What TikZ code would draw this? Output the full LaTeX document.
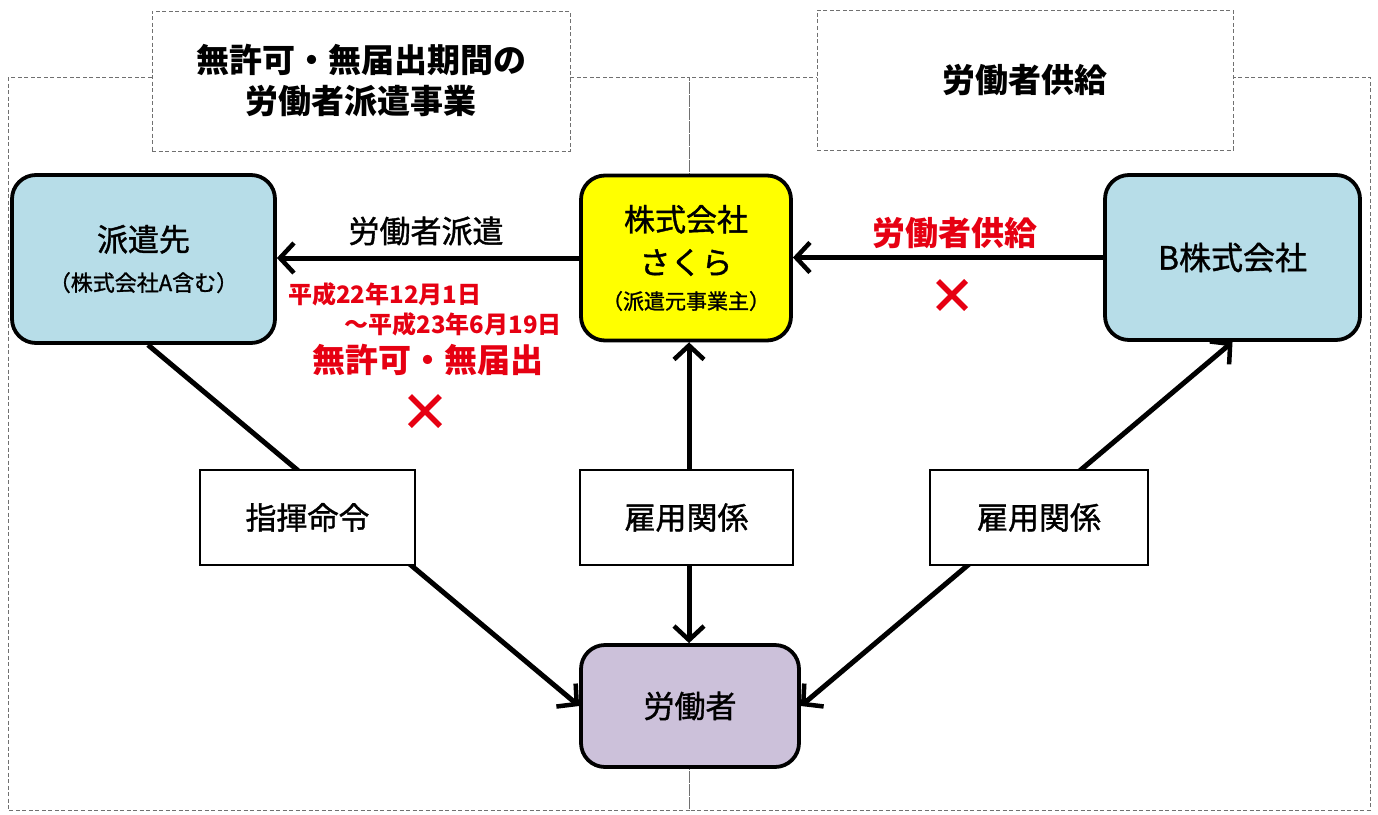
\documentclass[tikz,border=0pt]{standalone}
\usepackage{fontspec}
\setmainfont{Noto Sans CJK JP}
\newfontfamily\medfont{Noto Sans CJK JP}[FakeBold=1.2]
\usetikzlibrary{arrows.meta,calc}
\definecolor{hakenblue}{HTML}{B7DDE8}
\definecolor{sakurayellow}{HTML}{FFFF00}
\definecolor{workerlav}{HTML}{CCC1DA}
\definecolor{alertred}{HTML}{E60012}
\definecolor{dashgray}{HTML}{707070}
\tikzset{
  bigbox/.style={draw=black, line width=3.8pt, rounded corners=24pt, align=center, inner sep=0pt},
  labelbox/.style={draw=black, line width=1.2pt, fill=white, inner sep=0pt, font=\medfont\fontsize{31}{36}\selectfont},
  region/.style={draw=dashgray, line width=0.9pt, dash pattern=on 4pt off 2.5pt},
  titlebox/.style={region, fill=white, align=center, font=\fontsize{33}{41}\selectfont\bfseries},
  conn/.style={line width=5pt},
  tip/.style={-{Straight Barb[length=14pt,width=30pt,line width=4.5pt]}},
  bothtip/.style={{Straight Barb[length=14pt,width=30pt,line width=4.5pt]}-{Straight Barb[length=14pt,width=30pt,line width=4.5pt]}},
  redtext/.style={text=alertred, font=\bfseries},
  cross/.style={draw=alertred, line width=5.5pt}
}
\begin{document}
\begin{tikzpicture}[x=1pt,y=-1pt]
\useasboundingbox (0,0) rectangle (1378,814);
% regions
\draw[region] (8,77) rectangle (689,810);
\draw[region] (689,77) rectangle (1370,810);
\node[titlebox, minimum width=418pt, minimum height=140pt] (t1) at (361,81) {無許可・無届出期間の\\労働者派遣事業};
\node[titlebox, minimum width=416pt, minimum height=140pt] (t2) at (1025,80) {労働者供給};
% main boxes
\node[bigbox, fill=hakenblue, minimum width=263pt, minimum height=168pt,
      font=\medfont\fontsize{31}{38}\selectfont] (haken) at (143.5,259)
  {派遣先\\[2pt]{\fontsize{22}{26}\selectfont （株式会社A含む）}};
\node[bigbox, fill=sakurayellow, minimum width=210pt, minimum height=165pt,
      font=\medfont\fontsize{31}{38}\selectfont] (sakura) at (686,258)
  {株式会社\\[5pt]さくら\\[-3pt]{\fontsize{21}{26}\selectfont （派遣元事業主）}};
\node[bigbox, fill=hakenblue, minimum width=255pt, minimum height=165pt,
      font=\medfont\fontsize{32}{38}\selectfont] (bco) at (1232.5,257.5)
  {B株式会社};
\node[bigbox, fill=workerlav, minimum width=218pt, minimum height=122pt,
      font=\medfont\fontsize{31}{38}\selectfont] (worker) at (690,706)
  {労働者};
% connectors
\draw[conn, tip] (sakura.west) -- (sakura.west -| haken.east);
\draw[conn, tip] (bco.west) -- (bco.west -| sakura.east);
\coordinate (hs) at ($(haken.south)+(4.5,0)$);
\draw[conn, tip] (hs) -- (worker.west);
\draw[conn, bothtip] (worker.east) -- (bco.south);
% label boxes
\node[labelbox, minimum width=215pt, minimum height=95pt] (shiki) at (307.5,517.5) {指揮命令};
\node[labelbox, minimum width=213pt, minimum height=95pt] (koyo1) at (686.5,517.5) {雇用関係};
\node[labelbox, minimum width=218pt, minimum height=95pt] (koyo2) at (1039,517.5) {雇用関係};
\draw[conn, tip] (koyo1.north -| 689,0) -- (sakura.south -| 689,0);
\draw[conn, tip] (koyo1.south -| 689,0) -- (worker.north -| 689,0);
% arrow labels
\node[font=\medfont\fontsize{31}{36}\selectfont] (haken_lbl) at (426,231) {労働者派遣};
\node[redtext, font=\fontsize{33}{38}\selectfont\bfseries] (kyokyu_lbl) at (955,233) {労働者供給};
\node[redtext, font=\fontsize{24}{28}\selectfont\bfseries, anchor=west, inner sep=0pt] (date1) at (288,294) {平成22年12月1日};
\node[redtext, font=\fontsize{24}{28}\selectfont\bfseries, anchor=east, inner sep=0pt] (date2) at (562,324) {～平成23年6月19日};
\node[redtext, font=\fontsize{33}{38}\selectfont\bfseries] (mukyoka) at (428,360) {無許可・無届出};
% red crosses
\draw[cross] (938,281) -- (966,309) (966,281) -- (938,309);
\draw[cross] (410,396) -- (440,426) (440,396) -- (410,426);
\end{tikzpicture}
\end{document}
